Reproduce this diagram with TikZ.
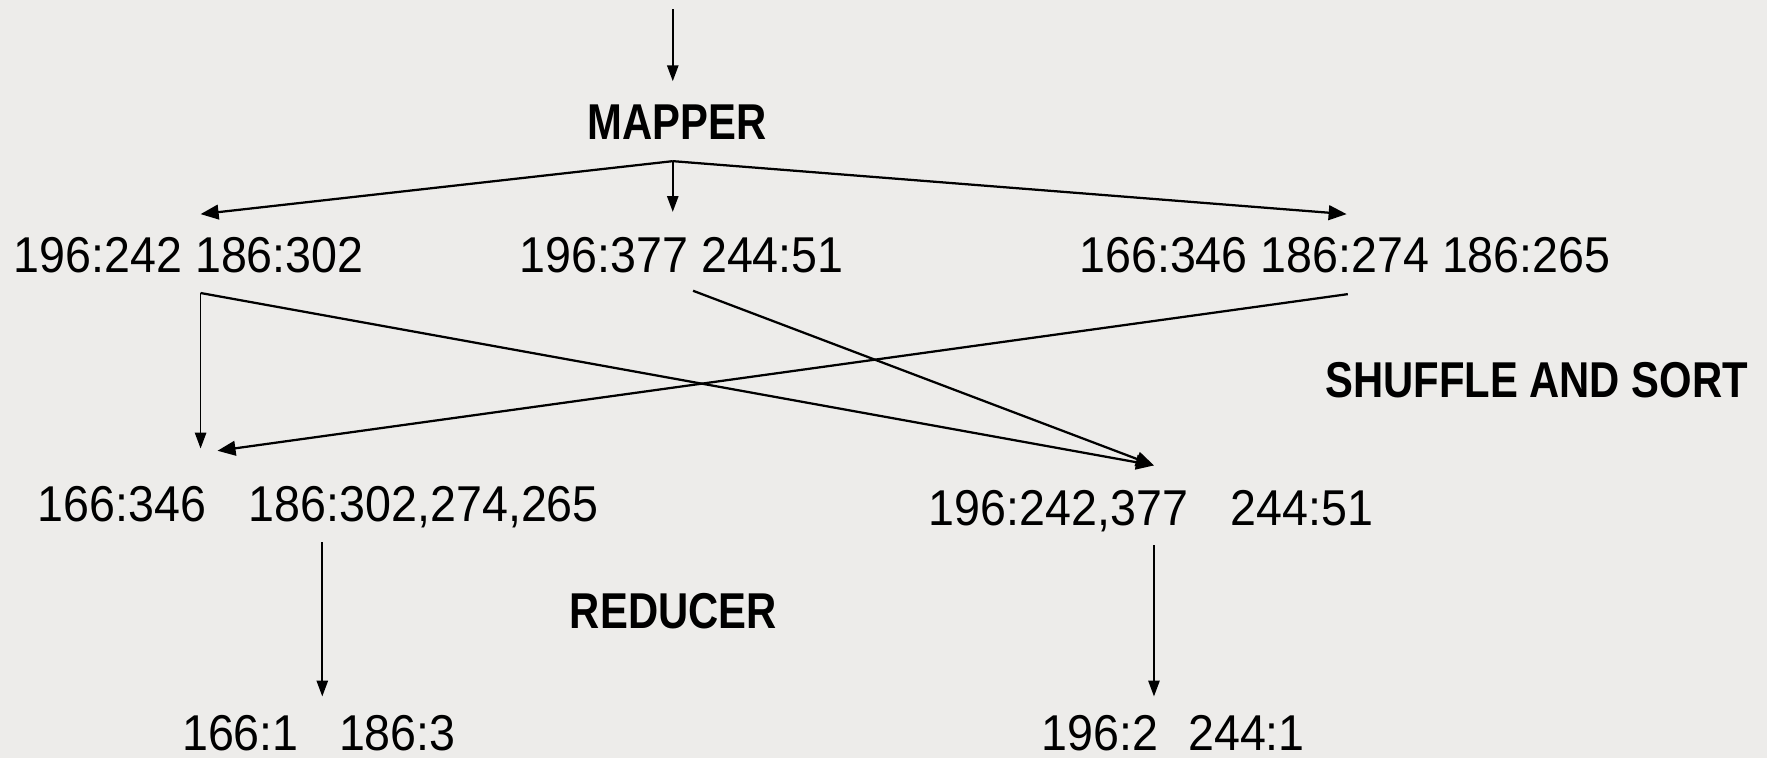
\documentclass[tikz,border=0pt]{standalone}
\usepackage{fontspec}
\setmainfont{Liberation Sans}[FakeStretch=0.925, BoldFeatures={FakeStretch=0.83}]
\usetikzlibrary{arrows.meta}
\definecolor{bgc}{RGB}{237,236,234}
\tikzset{
  txt/.style={anchor=base, inner sep=0pt, font=\fontsize{44.7}{50}\selectfont},
  ttl/.style={txt, font=\fontsize{44.7}{50}\selectfont\bfseries},
  arr/.style={-{Triangle[length=16pt,width=13pt]}, line width=2pt},
  vline/.style={-{Triangle[length=14pt,width=10pt]}, line width=1.5pt},
}
\begin{document}
\begin{tikzpicture}[x=1pt,y=-1pt]
\fill[bgc] (0,0) rectangle (1568,673);
\useasboundingbox (0,0) rectangle (1568,673);
% texts
\node[ttl] (mapper) at (601,124) {MAPPER};
\node[txt] (r1a) at (167.5,242) {196:242 186:302};
\node[txt] (r1b) at (605,242) {196:377 244:51};
\node[txt] (r1c) at (1193.5,242) {166:346 186:274 186:265};
\node[ttl] (shuffle) at (1363.5,353) {SHUFFLE AND SORT};
\node[txt] (r2a) at (282.5,463) {166:346\hspace{0.85em}186:302,274,265};
\node[txt] (r2b) at (1021.5,466) {196:242,377\hspace{0.85em}244:51};
\node[ttl] (reducer) at (597.5,558) {REDUCER};
\node[txt] (r3a) at (283,666) {166:1\hspace{0.8em}186:3};
\node[txt] (r3b) at (1041,666) {196:2\hspace{0.6em}244:1};
% connector points
\coordinate (in) at (597,8);
\coordinate (mtop) at (597,72);
\coordinate (fork) at (597,143);
\coordinate (t1a) at (178,190);
\coordinate (t1b) at (597,188);
\coordinate (t1c) at (1195,190);
\coordinate (s1a) at (178,260);
\coordinate (s1b) at (615,258);
\coordinate (s1c) at (1196,261);
\coordinate (t2a) at (178,398);
\coordinate (t2aa) at (193,400);
\coordinate (t2b) at (1024,413);
\coordinate (s2a) at (286,481);
\coordinate (t3a) at (286,618);
\coordinate (s2b) at (1024,484);
\coordinate (t3b) at (1024,618);
% connectors
\draw[vline] (in) -- (mtop);
\draw[arr] (fork) -- (t1a);
\draw[vline] (fork) -- (t1b);
\draw[arr] (fork) -- (t1c);
\draw[vline] (s1a) -- (t2a);
\draw[arr] (s1a) -- (t2b);
\draw[arr] (s1b) -- (t2b);
\draw[arr] (s1c) -- (t2aa);
\draw[vline] (s2a) -- (t3a);
\draw[vline] (s2b) -- (t3b);
\end{tikzpicture}
\end{document}
